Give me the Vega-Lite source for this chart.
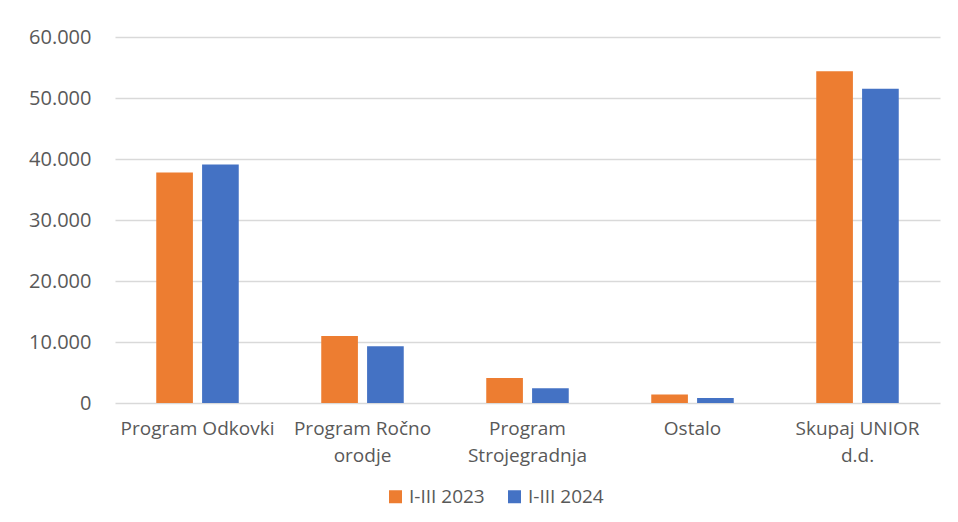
{
  "$schema": "https://vega.github.io/schema/vega-lite/v6.json",
  "width": 825,
  "height": 366,
  "autosize": {"type": "none"},
  "padding": {"left": 115, "top": 37, "right": 18, "bottom": 119},
  "background": "white",
  "config": {
    "view": {"stroke": null},
    "font": "Open Sans"
  },
  "data": {
    "values": [
      {"cat": "Program Odkovki", "series": "I-III 2023", "value": 37800},
      {"cat": "Program Odkovki", "series": "I-III 2024", "value": 39100},
      {"cat": "Program Ročno orodje", "series": "I-III 2023", "value": 11000},
      {"cat": "Program Ročno orodje", "series": "I-III 2024", "value": 9300},
      {"cat": "Program Strojegradnja", "series": "I-III 2023", "value": 4100},
      {"cat": "Program Strojegradnja", "series": "I-III 2024", "value": 2400},
      {"cat": "Ostalo", "series": "I-III 2023", "value": 1400},
      {"cat": "Ostalo", "series": "I-III 2024", "value": 800},
      {"cat": "Skupaj UNIOR d.d.", "series": "I-III 2023", "value": 54400},
      {"cat": "Skupaj UNIOR d.d.", "series": "I-III 2024", "value": 51500}
    ]
  },
  "mark": {"type": "bar"},
  "encoding": {
    "x": {
      "field": "cat",
      "type": "nominal",
      "sort": null,
      "scale": {"paddingInner": 0.5, "paddingOuter": 0.25},
      "axis": {
        "title": null,
        "labelAngle": 0,
        "domain": false,
        "ticks": false,
        "labelFontSize": 19,
        "labelColor": "#595959",
        "labelPadding": 16,
        "labelLineHeight": 27,
        "labelLimit": 300,
        "labelExpr": "datum.value == 'Program Ročno orodje' ? ['Program Ročno', 'orodje'] : datum.value == 'Program Strojegradnja' ? ['Program', 'Strojegradnja'] : datum.value == 'Skupaj UNIOR d.d.' ? ['Skupaj UNIOR', 'd.d.'] : datum.value"
      }
    },
    "xOffset": {
      "field": "series",
      "type": "nominal",
      "scale": {"paddingInner": 0.2, "paddingOuter": 0}
    },
    "y": {
      "field": "value",
      "type": "quantitative",
      "scale": {"domain": [0, 60000], "nice": false},
      "axis": {
        "title": null,
        "values": [0, 10000, 20000, 30000, 40000, 50000, 60000],
        "domain": false,
        "ticks": false,
        "gridColor": "#d9d9d9",
        "gridWidth": 1.5,
        "labelFontSize": 20,
        "labelColor": "#595959",
        "labelPadding": 24,
        "labelExpr": "replace(format(datum.value, ','), ',', '.')"
      }
    },
    "color": {
      "field": "series",
      "type": "nominal",
      "scale": {"domain": ["I-III 2023", "I-III 2024"], "range": ["#ED7D31", "#4472C4"]},
      "legend": {
        "title": null,
        "orient": "none",
        "direction": "horizontal",
        "legendX": 271,
        "legendY": 450,
        "symbolType": "square",
        "symbolSize": 169,
        "symbolStrokeWidth": 0,
        "labelFontSize": 19,
        "labelColor": "#595959",
        "labelOffset": 4,
        "columnPadding": 20
      }
    }
  }
}
